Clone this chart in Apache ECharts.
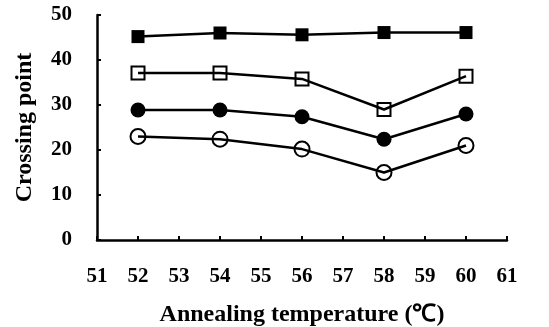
<!DOCTYPE html>
<html>
<head>
<meta charset="utf-8">
<script src="https://cdn.jsdelivr.net/npm/echarts@6/dist/echarts.min.js"></script>
<style>
  html, body { margin: 0; padding: 0; background: #fff; }
  #chart { width: 549px; height: 327px; }
</style>
</head>
<body>
<div id="chart"></div>
<script>
// annealing temperatures (x)
const temps = [52, 54, 56, 58, 60]
// crossing points
const filledSquare = [45.2, 46.0, 45.6, 46.1, 46.1]
const openSquare = [37.1, 37.1, 35.8, 29.0, 36.4]
const filledCircle = [28.9, 28.9, 27.4, 22.4, 28.0]
const openCircle = [23.0, 22.4, 20.2, 15.0, 21.0]

const font = 'Liberation Serif'

function pairs (vals) {
  return temps.map((t, i) => [t, vals[i]])
}

function makeSeries (vals, symbol, filled) {
  return {
    type: 'line',
    data: pairs(vals),
    symbol: symbol,
    symbolSize: symbol === 'rect' ? 13 : 15,
    lineStyle: { color: '#000', width: 2.5 },
    itemStyle: {
      color: filled ? '#000' : 'rgba(0,0,0,0)',
      borderColor: '#000',
      borderWidth: filled ? 0 : 2
    },
    emphasis: { disabled: true },
    animation: false
  }
}

const myChart = echarts.init(document.getElementById('chart'))
const option = {
  backgroundColor: '#fff',
  grid: { left: 97, right: 42, top: 15, bottom: 87, outerBoundsMode: 'none' },
  xAxis: {
    type: 'value',
    min: 51,
    max: 61,
    interval: 1,
    name: 'Annealing temperature (℃)',
    nameLocation: 'middle',
    nameGap: 63,
    nameTextStyle: { fontFamily: font, fontWeight: 'bold', fontSize: 24, color: '#000' },
    axisLine: { lineStyle: { color: '#000', width: 2.5 } },
    axisTick: { inside: true, length: 4, lineStyle: { color: '#000', width: 2 } },
    axisLabel: { fontFamily: font, fontWeight: 'bold', fontSize: 21, color: '#000', margin: 26 },
    splitLine: { show: false }
  },
  yAxis: {
    type: 'value',
    min: 0,
    max: 50,
    interval: 10,
    name: 'Crossing point',
    nameLocation: 'middle',
    nameGap: 60,
    nameTextStyle: { fontFamily: font, fontWeight: 'bold', fontSize: 24, color: '#000' },
    axisLine: { show: true, lineStyle: { color: '#000', width: 2.5 } },
    axisTick: { show: true, inside: true, length: 4, lineStyle: { color: '#000', width: 2 } },
    axisLabel: { fontFamily: font, fontWeight: 'bold', fontSize: 21, color: '#000', margin: 25 },
    splitLine: { show: false }
  },
  series: [
    makeSeries(filledSquare, 'rect', true),
    makeSeries(openSquare, 'rect', false),
    makeSeries(filledCircle, 'circle', true),
    makeSeries(openCircle, 'circle', false)
  ]
}
myChart.setOption(option)
window.addEventListener('resize', () => {
  myChart.resize()
})
</script>
</body>
</html>
